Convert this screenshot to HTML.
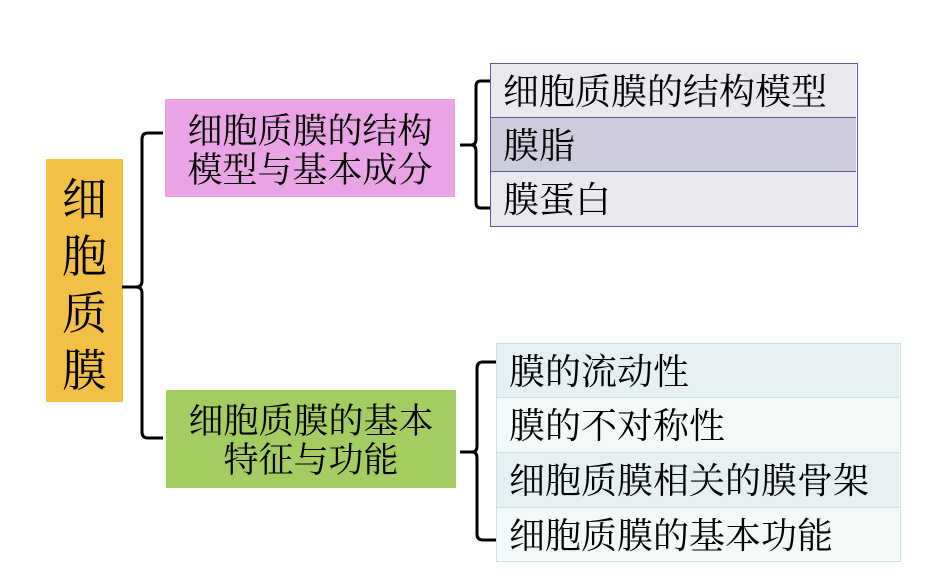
<!DOCTYPE html>
<html><head><meta charset="utf-8"><style>
body{margin:0;width:929px;height:582px;background:#fff;position:relative;overflow:hidden;font-family:"Liberation Sans","Noto Sans CJK SC",sans-serif;color:#000}
div{position:absolute;box-sizing:border-box}
.b{text-align:center;font-size:35px;line-height:39px;font-family:"Noto Serif CJK SC","Noto Sans CJK SC",serif}
.r{font-size:36px;line-height:52px;padding-left:12px;white-space:nowrap;font-family:"Noto Serif CJK SC","Noto Sans CJK SC",serif}
</style></head><body>
<div style="left:46px;top:159px;width:77px;height:243px;background:#f2c045;font-size:45px;line-height:57px;text-align:center;padding-top:8px;font-family:'Noto Serif CJK SC','Noto Sans CJK SC',serif">细<br>胞<br>质<br>膜</div>
<div class="b" style="left:165px;top:99px;width:290px;height:98px;background:#e8a4e4;padding-top:11px">细胞质膜的结构<br>模型与基本成分</div>
<div class="b" style="left:166px;top:390px;width:290px;height:98px;background:#a3cc62;padding-top:10px">细胞质膜的基本<br>特征与功能</div>
<svg width="929" height="582" style="position:absolute;left:0;top:0" fill="none" stroke="#000" stroke-width="3">
<path d="M122 287 H136 Q142 287 142 281 V139 Q142 133 148 133 H163"/>
<path d="M136 287 Q142 287 142 293 V432 Q142 438 148 438 H163"/>
<path d="M460 145 H471 Q476 145 476 139 V86 Q476 81 481 81 H490"/>
<path d="M471 145 Q476 145 476 151 V203 Q476 208 481 208 H490"/>
<path d="M460 452 H472 Q477 452 477 446 V368 Q477 362 483 362 H496"/>
<path d="M472 452 Q477 452 477 458 V534 Q477 540 483 540 H496"/>
</svg>
<div style="left:490px;top:63px;width:368px;height:164px;border:1.5px solid #5a5aa8">
<div class="r" style="left:0;top:0;width:365px;height:54px;background:#e9e8ef;border-bottom:1.5px solid #5a5aa8">细胞质膜的结构模型</div>
<div class="r" style="left:0;top:54px;width:365px;height:54px;background:#cdccdc;border-bottom:1.5px solid #5a5aa8">膜脂</div>
<div class="r" style="left:0;top:108px;width:365px;height:54px;background:#e9e8ef">膜蛋白</div>
</div>
<div style="left:496px;top:343px;width:405px;height:219px;border:1.5px solid #c6e0e6">
<div class="r" style="left:0;top:0;width:402px;height:54px;background:#e6f0f2;border-bottom:1.5px solid #c6e0e6">膜的流动性</div>
<div class="r" style="left:0;top:54px;width:402px;height:55px;background:#f3f8f9;border-bottom:1.5px solid #c6e0e6">膜的不对称性</div>
<div class="r" style="left:0;top:109px;width:402px;height:55px;background:#e6f0f2;border-bottom:1.5px solid #c6e0e6">细胞质膜相关的膜骨架</div>
<div class="r" style="left:0;top:164px;width:402px;height:52px;background:#f3f8f9">细胞质膜的基本功能</div>
</div>
</body></html>
